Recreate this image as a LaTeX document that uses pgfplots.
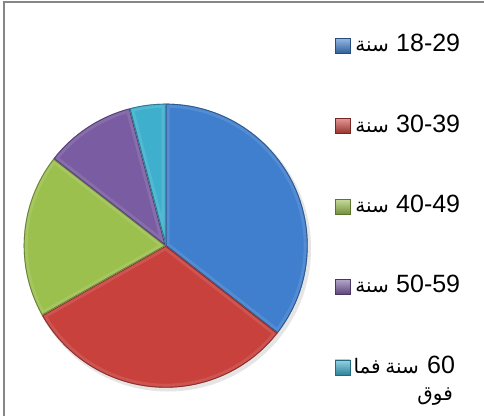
\documentclass[border=0pt]{standalone}
\usepackage{pgfplots}
\pgfplotsset{compat=1.18}
\usepackage{pgfplotstable}
\usepackage{fontspec}
\setmainfont{Liberation Sans}
\newfontfamily\arabicfont[Script=Arabic]{DejaVu Sans}
\TeXXeTstate=1
\definecolor{cA}{RGB}{63,127,205}
\definecolor{cB}{RGB}{200,65,60}
\definecolor{cC}{RGB}{155,192,78}
\definecolor{cD}{RGB}{122,92,162}
\definecolor{cE}{RGB}{62,176,206}
\definecolor{frame}{RGB}{134,134,134}

\pgfplotstableread{
idx value
0 35.6
1 31.3
2 18.7
3 10.4
4 4.1
}\agedata

\newcommand\slice[3]{%
  \begin{scope}
    \clip (axis cs:165.7,170.3) -- ++(#2:142pt) arc[start angle=#2,end angle=#3,radius=142pt] -- cycle;
    \fill[#1] (axis cs:165.7,170.3) circle[radius=150pt];
    \draw[#1!70!white, line width=8pt, opacity=0.35] (axis cs:165.7,170.3) -- ++(#2:142pt) arc[start angle=#2,end angle=#3,radius=142pt] -- cycle;
    \draw[#1!60!black, line width=1.8pt, opacity=0.8] (axis cs:165.7,170.3) -- ++(#2:142pt) arc[start angle=#2,end angle=#3,radius=142pt] -- cycle;
  \end{scope}}
\newcommand\legsq[2]{%
  \shade[top color=#1!55!white, bottom color=#1!75!black, draw=#1!60!black, line width=0.6pt]
    (axis cs:335,#2-1.5) rectangle (axis cs:350,#2+13.5);}
\newcommand\digs[3]{\node[anchor=base west, inner sep=0pt, font=\fontsize{25}{30}\selectfont] at (axis cs:#1,#2) {#3};}
\newcommand\arw[3]{\node[anchor=base east, inner sep=0pt, font=\fontsize{20}{24}\arabicfont] at (axis cs:#1,#2) {\beginR #3\endR};}

\begin{document}
\begin{tikzpicture}[x=1pt,y=1pt]
\pgfplotstablegetelem{0}{value}\of\agedata\let\vA\pgfplotsretval
\pgfplotstablegetelem{1}{value}\of\agedata\let\vB\pgfplotsretval
\pgfplotstablegetelem{2}{value}\of\agedata\let\vC\pgfplotsretval
\pgfplotstablegetelem{3}{value}\of\agedata\let\vD\pgfplotsretval
\pgfplotstablegetelem{4}{value}\of\agedata\let\vE\pgfplotsretval
\pgfmathsetmacro\tot{\vA+\vB+\vC+\vD+\vE}
\pgfmathsetmacro\aA{90}
\pgfmathsetmacro\aB{\aA-360*\vA/\tot}
\pgfmathsetmacro\aC{\aB-360*\vB/\tot}
\pgfmathsetmacro\aD{\aC-360*\vC/\tot}
\pgfmathsetmacro\aE{\aD-360*\vD/\tot}
\pgfmathsetmacro\aF{\aE-360*\vE/\tot}
\fill[white] (0,0) rectangle (484,416);
\path[use as bounding box] (0,0) rectangle (484,416);
\begin{axis}[at={(0,0)}, anchor=south west, x=1pt, y=1pt,
  xmin=0, xmax=484, ymin=0, ymax=416, hide axis, clip=false, enlargelimits=false]
  \draw[frame, line width=1.6pt] (axis cs:4,0) -- (axis cs:4,414) -- (axis cs:484,414);
  \fill[black, opacity=0.10] (axis cs:168,167.5) circle[radius=143pt];
  \slice{cA}{\aA}{\aB}
  \slice{cB}{\aB}{\aC}
  \slice{cC}{\aC}{\aD}
  \slice{cD}{\aD}{\aE}
  \slice{cE}{\aE}{\aF}
  \legsq{cA}{364.3}
  \legsq{cB}{283.9}
  \legsq{cC}{203.5}
  \legsq{cD}{123.1}
  \legsq{cE}{42.7}
  \arw{389}{364.3}{سنة}\digs{396}{364.3}{18-29}
  \arw{389}{283.9}{سنة}\digs{396}{283.9}{30-39}
  \arw{389}{203.5}{سنة}\digs{396}{203.5}{40-49}
  \arw{389}{123.1}{سنة}\digs{396}{123.1}{50-59}
  \arw{381}{42.7}{فما}\arw{419}{42.7}{سنة}\digs{427}{42.7}{60}
  \arw{453}{16}{فوق}
\end{axis}
\end{tikzpicture}
\end{document}
